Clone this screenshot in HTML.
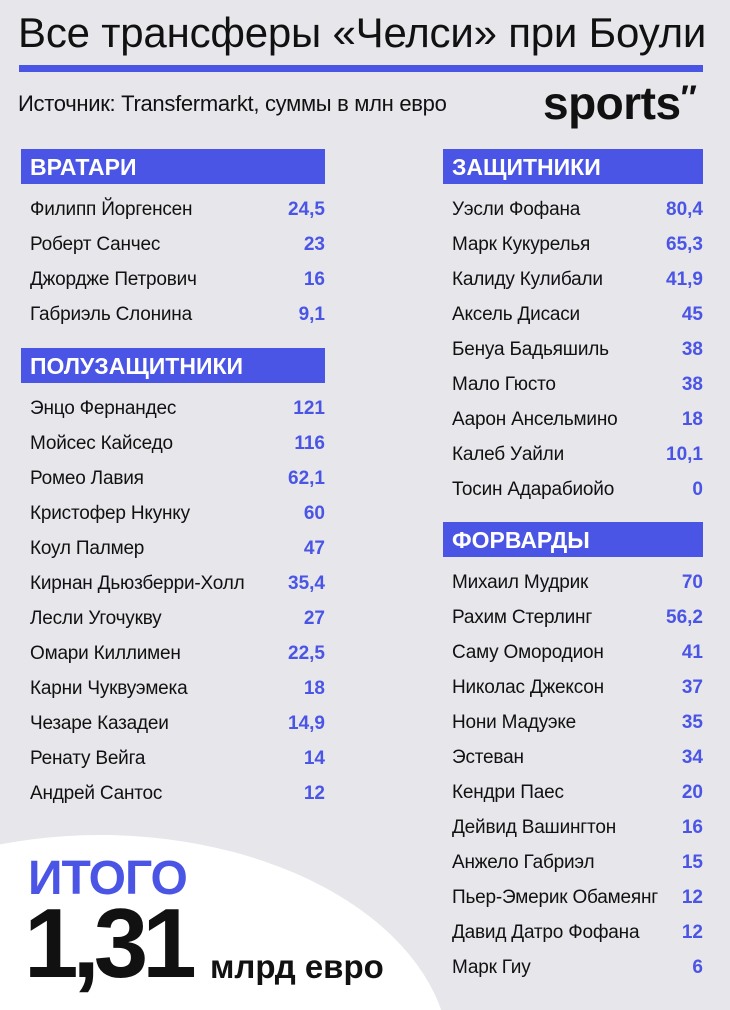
<!DOCTYPE html>
<html><head><meta charset="utf-8"><style>
html,body{margin:0;overflow:hidden;width:730px;height:1010px;}
#p{position:relative;width:730px;height:1010px;background:#e6e6eb;overflow:hidden;font-family:"Liberation Sans","DejaVu Sans",sans-serif;color:#111;}
.a{position:absolute;white-space:nowrap;}
.h{position:absolute;background:#4a55e6;color:#fff;font-weight:bold;font-size:23px;height:35px;line-height:36px;padding-left:9px;box-sizing:border-box;letter-spacing:0px;}
.r{position:absolute;font-size:19px;height:24px;line-height:24px;letter-spacing:-0.2px;}
.v{position:absolute;font-size:19px;font-weight:bold;color:#4a55e6;text-align:right;height:24px;line-height:24px;}
</style></head><body><div id="p">
<div class="a" style="left:18px;top:9px;font-size:42px;letter-spacing:-0.2px;">Все трансферы «Челси» при Боули</div>
<div class="a" style="left:19px;top:65px;width:684px;height:7px;background:#4a55e6;"></div>
<div class="a" style="left:18px;top:91px;font-size:22px;letter-spacing:-0.3px;">Источник: Transfermarkt, суммы в млн евро</div>
<div class="a" style="left:543px;top:76px;font-size:46px;font-weight:bold;letter-spacing:-0.5px;">sports<span style="font-size:34px;vertical-align:10px">″</span></div>
<div class="a" style="left:-250px;top:835px;width:700px;height:450px;border-radius:50%;background:#fff;"></div>
<div class="a" style="left:28px;top:851px;font-size:48px;font-weight:bold;color:#4a55e6;letter-spacing:-1px;">ИТОГО</div>
<div class="a" style="left:24px;top:893px;font-size:98px;font-weight:bold;letter-spacing:-6px;line-height:100px;">1,31</div>
<div class="a" style="left:210px;top:948px;font-size:33px;font-weight:bold;">млрд евро</div>
<div id="c"></div>
</div>
<script>
function col(x0,w,secs){let h='';for(const s of secs){h+=`<div class="h" style="left:${x0}px;top:${s.y}px;width:${w}px">${s.t}</div>`;s.r.forEach((r,i)=>{const y=s.y+49+i*35;h+=`<div class="r" style="left:${x0+9}px;top:${y}px">${r[0]}</div><div class="v" style="left:${x0}px;width:${w}px;top:${y}px">${r[1]}</div>`;});}return h;}
document.getElementById('c').outerHTML=col(21,304,[
{y:149,t:'ВРАТАРИ',r:[['Филипп Йоргенсен','24,5'],['Роберт Санчес','23'],['Джордже Петрович','16'],['Габриэль Слонина','9,1']]},
{y:348,t:'ПОЛУЗАЩИТНИКИ',r:[['Энцо Фернандес','121'],['Мойсес Кайседо','116'],['Ромео Лавия','62,1'],['Кристофер Нкунку','60'],['Коул Палмер','47'],['Кирнан Дьюзберри-Холл','35,4'],['Лесли Угочукву','27'],['Омари Киллимен','22,5'],['Карни Чуквуэмека','18'],['Чезаре Казадеи','14,9'],['Ренату Вейга','14'],['Андрей Сантос','12']]}
])+col(443,260,[
{y:149,t:'ЗАЩИТНИКИ',r:[['Уэсли Фофана','80,4'],['Марк Кукурелья','65,3'],['Калиду Кулибали','41,9'],['Аксель Дисаси','45'],['Бенуа Бадьяшиль','38'],['Мало Гюсто','38'],['Аарон Ансельмино','18'],['Калеб Уайли','10,1'],['Тосин Адарабиойо','0']]},
{y:522,t:'ФОРВАРДЫ',r:[['Михаил Мудрик','70'],['Рахим Стерлинг','56,2'],['Саму Омородион','41'],['Николас Джексон','37'],['Нони Мадуэке','35'],['Эстеван','34'],['Кендри Паес','20'],['Дейвид Вашингтон','16'],['Анжело Габриэл','15'],['Пьер-Эмерик Обамеянг','12'],['Давид Датро Фофана','12'],['Марк Гиу','6']]}
]);
</script>
</body></html>
